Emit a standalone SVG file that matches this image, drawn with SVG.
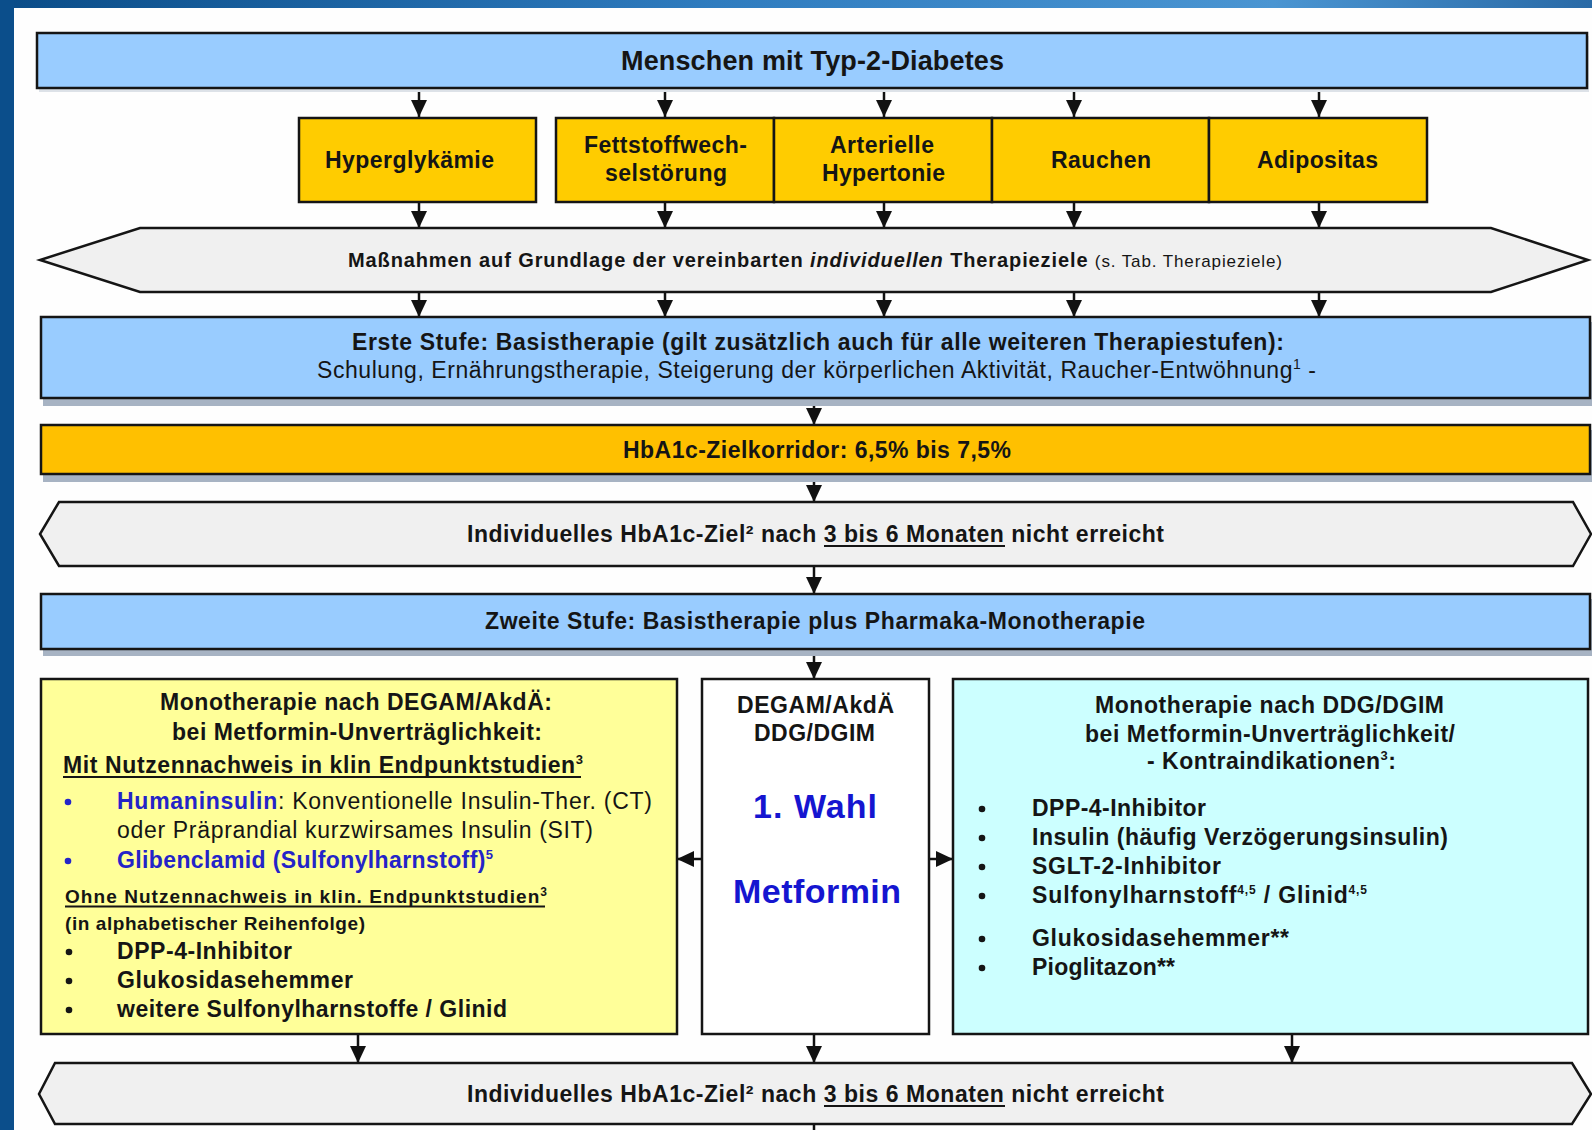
<svg xmlns="http://www.w3.org/2000/svg" width="1592" height="1130" viewBox="0 0 1592 1130">
<defs>
<linearGradient id="topbar" x1="0" y1="0" x2="1" y2="0">
<stop offset="0" stop-color="#0a4c88"/>
<stop offset="0.45" stop-color="#2f7cbf"/>
<stop offset="0.8" stop-color="#4a95d2"/>
<stop offset="1" stop-color="#2a6aa6"/>
</linearGradient>
<marker id="ah" markerUnits="userSpaceOnUse" markerWidth="18" markerHeight="18" refX="17" refY="9" orient="auto">
<path d="M0,1 L17,9 L0,17 Z" fill="#111"/>
</marker>
<style>
text{font-family:"Liberation Sans",Arial,sans-serif;fill:#151515}
.b{font-weight:bold}
.box{stroke:#151515;stroke-width:2.5}
.blue{fill:#99ccff}
.gold{fill:#ffcc00}
.hex{fill:#f0f0f0;stroke:#151515;stroke-width:2.5}
.sh{fill:#a7b3c3}
.con{stroke:#111;stroke-width:2.5;fill:none;marker-end:url(#ah)}
.ul{stroke:#151515;stroke-width:2}
.bl{fill:#2424c8}
.big{fill:#1515d0;font-weight:bold}
.f23{font-size:23px}
.f19{font-size:19px}
</style>
</defs>
<rect x="0" y="0" width="1592" height="1130" fill="#fefefe"/>
<rect x="0" y="0" width="1592" height="8" fill="url(#topbar)"/>
<rect x="0" y="0" width="14" height="1130" fill="#0b4e8b"/>

<g id="connectors">
<line class="con" x1="419" y1="89" x2="419" y2="117"/>
<line class="con" x1="665" y1="89" x2="665" y2="117"/>
<line class="con" x1="884" y1="89" x2="884" y2="117"/>
<line class="con" x1="1074" y1="89" x2="1074" y2="117"/>
<line class="con" x1="1319" y1="89" x2="1319" y2="117"/>
<line class="con" x1="419" y1="202" x2="419" y2="228"/>
<line class="con" x1="665" y1="202" x2="665" y2="228"/>
<line class="con" x1="884" y1="202" x2="884" y2="228"/>
<line class="con" x1="1074" y1="202" x2="1074" y2="228"/>
<line class="con" x1="1319" y1="202" x2="1319" y2="228"/>
<line class="con" x1="419" y1="292" x2="419" y2="317"/>
<line class="con" x1="665" y1="292" x2="665" y2="317"/>
<line class="con" x1="884" y1="292" x2="884" y2="317"/>
<line class="con" x1="1074" y1="292" x2="1074" y2="317"/>
<line class="con" x1="1319" y1="292" x2="1319" y2="317"/>
<line class="con" x1="814" y1="398" x2="814" y2="425"/>
<line class="con" x1="814" y1="474" x2="814" y2="502"/>
<line class="con" x1="814" y1="566" x2="814" y2="594"/>
<line class="con" x1="814" y1="649" x2="814" y2="679"/>
<line class="con" x1="702" y1="859" x2="677" y2="859"/>
<line class="con" x1="929" y1="859" x2="953" y2="859"/>
<line class="con" x1="358" y1="1034" x2="358" y2="1063"/>
<line class="con" x1="814" y1="1034" x2="814" y2="1063"/>
<line class="con" x1="1292" y1="1034" x2="1292" y2="1063"/>
<line x1="814" y1="1124" x2="814" y2="1130" stroke="#111" stroke-width="2.5"/>
</g>

<g id="n-menschen">
<rect x="39" y="36" width="1550" height="56" fill="#dde2e8"/>
<rect class="box blue" x="37" y="33" width="1550" height="55"/>
<text class="b" x="621" y="70" font-size="27" textLength="383" lengthAdjust="spacing">Menschen mit Typ-2-Diabetes</text>
</g>

<g id="n-hyper">
<rect class="box gold" x="299" y="118" width="237" height="84"/>
<text class="b f23" x="325" y="168" textLength="169" lengthAdjust="spacing">Hyperglykämie</text>
</g>
<g id="n-fett">
<rect class="box gold" x="556" y="118" width="218" height="84"/>
<text class="b f23" x="584" y="153" textLength="163" lengthAdjust="spacing">Fettstoffwech-</text>
<text class="b f23" x="605" y="181" textLength="122" lengthAdjust="spacing">selstörung</text>
</g>
<g id="n-arteriell">
<rect class="box gold" x="774" y="118" width="218" height="84"/>
<text class="b f23" x="830" y="153" textLength="104" lengthAdjust="spacing">Arterielle</text>
<text class="b f23" x="822" y="181" textLength="123" lengthAdjust="spacing">Hypertonie</text>
</g>
<g id="n-rauchen">
<rect class="box gold" x="992" y="118" width="217" height="84"/>
<text class="b f23" x="1051" y="168" textLength="100" lengthAdjust="spacing">Rauchen</text>
</g>
<g id="n-adipositas">
<rect class="box gold" x="1209" y="118" width="218" height="84"/>
<text class="b f23" x="1257" y="168" textLength="121" lengthAdjust="spacing">Adipositas</text>
</g>

<g id="n-massnahmen">
<polygon class="hex" points="140,228 1491,228 1588,260 1491,292 140,292 40,260"/>
<text x="348" y="267" textLength="934" lengthAdjust="spacing"><tspan class="b" font-size="20">Maßnahmen auf Grundlage der vereinbarten </tspan><tspan class="b" font-size="20" font-style="italic">individuellen</tspan><tspan class="b" font-size="20"> Therapieziele </tspan><tspan font-size="17">(s. Tab. Therapieziele)</tspan></text>
</g>

<g id="n-erste">
<rect class="sh" x="43" y="322" width="1549" height="84"/>
<rect class="box blue" x="41" y="317" width="1549" height="81"/>
<text class="b f23" x="352" y="350" textLength="932" lengthAdjust="spacing">Erste Stufe: Basistherapie (gilt zusätzlich auch für alle weiteren Therapiestufen):</text>
<text class="f23" x="317" y="378" textLength="999" lengthAdjust="spacing">Schulung, Ernährungstherapie, Steigerung der körperlichen Aktivität, Raucher-Entwöhnung<tspan font-size="14" dy="-9">1</tspan><tspan dy="9"> -</tspan></text>
</g>

<g id="n-hba1c">
<rect class="sh" x="43" y="430" width="1549" height="52"/>
<rect class="box" fill="#ffc000" x="41" y="425" width="1549" height="49"/>
<text class="b f23" x="623" y="458" textLength="388" lengthAdjust="spacing">HbA1c-Zielkorridor: 6,5% bis 7,5%</text>
</g>

<g id="n-ziel1">
<polygon class="hex" points="59,502 1573,502 1591,534 1573,566 59,566 40,534"/>
<text class="b f23" x="467" y="542" textLength="697" lengthAdjust="spacing">Individuelles HbA1c-Ziel² nach 3 bis 6 Monaten nicht erreicht</text>
<line class="ul" x1="824" y1="546" x2="1005" y2="546"/>
</g>

<g id="n-zweite">
<rect class="sh" x="43" y="599" width="1549" height="57"/>
<rect class="box blue" x="41" y="594" width="1549" height="55"/>
<text class="b f23" x="485" y="629" textLength="660" lengthAdjust="spacing">Zweite Stufe: Basistherapie plus Pharmaka-Monotherapie</text>
</g>

<g id="n-degam">
<rect class="box" fill="#ffff99" x="41" y="679" width="636" height="355"/>
<text class="b f23" x="160" y="710" textLength="392" lengthAdjust="spacing">Monotherapie nach DEGAM/AkdÄ:</text>
<text class="b f23" x="172" y="740" textLength="370" lengthAdjust="spacing">bei Metformin-Unverträglichkeit:</text>
<text class="b f23" x="63" y="773" textLength="520" lengthAdjust="spacing">Mit Nutzennachweis in klin Endpunktstudien<tspan font-size="13" dy="-9">3</tspan></text>
<line class="ul" x1="63" y1="777" x2="581" y2="777"/>
<circle class="bl" cx="68" cy="802" r="3.3"/>
<text class="f23" x="117" y="809" textLength="535" lengthAdjust="spacing"><tspan class="bl b">Humaninsulin</tspan>: Konventionelle Insulin-Ther. (CT)</text>
<text class="f23" x="117" y="838" textLength="476" lengthAdjust="spacing">oder Präprandial kurzwirsames Insulin (SIT)</text>
<circle class="bl" cx="68" cy="861" r="3.3"/>
<text class="b f23 bl" x="117" y="868" textLength="376" lengthAdjust="spacing">Glibenclamid (Sulfonylharnstoff)<tspan font-size="13" dy="-9">5</tspan></text>
<text class="b f19" x="65" y="903" textLength="482" lengthAdjust="spacing">Ohne Nutzennachweis in klin. Endpunktstudien<tspan font-size="12" dy="-7">3</tspan></text>
<line class="ul" x1="65" y1="906.5" x2="545" y2="906.5"/>
<text class="b f19" x="65" y="930" textLength="300" lengthAdjust="spacing">(in alphabetischer Reihenfolge)</text>
<circle cx="69" cy="952" r="3.3" fill="#151515"/>
<text class="b f23" x="117" y="959" textLength="175" lengthAdjust="spacing">DPP-4-Inhibitor</text>
<circle cx="69" cy="981" r="3.3" fill="#151515"/>
<text class="b f23" x="117" y="988" textLength="236" lengthAdjust="spacing">Glukosidasehemmer</text>
<circle cx="69" cy="1010" r="3.3" fill="#151515"/>
<text class="b f23" x="117" y="1017" textLength="390" lengthAdjust="spacing">weitere Sulfonylharnstoffe / Glinid</text>
</g>

<g id="n-metformin">
<rect class="box" fill="#ffffff" x="702" y="679" width="227" height="355"/>
<text class="b f23" x="737" y="713" textLength="157" lengthAdjust="spacing">DEGAM/AkdÄ</text>
<text class="b f23" x="754" y="741" textLength="121" lengthAdjust="spacing">DDG/DGIM</text>
<text class="big" font-size="34" x="753" y="818" textLength="124" lengthAdjust="spacing">1. Wahl</text>
<text class="big" font-size="34" x="733" y="903" textLength="168" lengthAdjust="spacing">Metformin</text>
</g>

<g id="n-ddg">
<rect class="box" fill="#ccffff" x="953" y="679" width="635" height="355"/>
<text class="b f23" x="1095" y="713" textLength="349" lengthAdjust="spacing">Monotherapie nach DDG/DGIM</text>
<text class="b f23" x="1085" y="742" textLength="370" lengthAdjust="spacing">bei Metformin-Unverträglichkeit/</text>
<text class="b f23" x="1147" y="769" textLength="249" lengthAdjust="spacing">- Kontraindikationen<tspan font-size="13" dy="-9">3</tspan><tspan dy="9">:</tspan></text>
<circle cx="982" cy="809" r="3.3" fill="#151515"/>
<text class="b f23" x="1032" y="816" textLength="174" lengthAdjust="spacing">DPP-4-Inhibitor</text>
<circle cx="982" cy="838" r="3.3" fill="#151515"/>
<text class="b f23" x="1032" y="845" textLength="416" lengthAdjust="spacing">Insulin (häufig Verzögerungsinsulin)</text>
<circle cx="982" cy="867" r="3.3" fill="#151515"/>
<text class="b f23" x="1032" y="874" textLength="189" lengthAdjust="spacing">SGLT-2-Inhibitor</text>
<circle cx="982" cy="896" r="3.3" fill="#151515"/>
<text class="b f23" x="1032" y="903" textLength="335" lengthAdjust="spacing">Sulfonylharnstoff<tspan font-size="12" dy="-9">4,5</tspan><tspan dy="9"> / Glinid</tspan><tspan font-size="12" dy="-9">4,5</tspan></text>
<circle cx="982" cy="939" r="3.3" fill="#151515"/>
<text class="b f23" x="1032" y="946" textLength="257" lengthAdjust="spacing">Glukosidasehemmer**</text>
<circle cx="982" cy="968" r="3.3" fill="#151515"/>
<text class="b f23" x="1032" y="975" textLength="143" lengthAdjust="spacing">Pioglitazon**</text>
</g>

<g id="n-ziel2">
<polygon class="hex" points="55,1063 1572,1063 1591,1094 1572,1124 55,1124 39,1094"/>
<text class="b f23" x="467" y="1102" textLength="697" lengthAdjust="spacing">Individuelles HbA1c-Ziel² nach 3 bis 6 Monaten nicht erreicht</text>
<line class="ul" x1="824" y1="1106" x2="1005" y2="1106"/>
</g>
</svg>
